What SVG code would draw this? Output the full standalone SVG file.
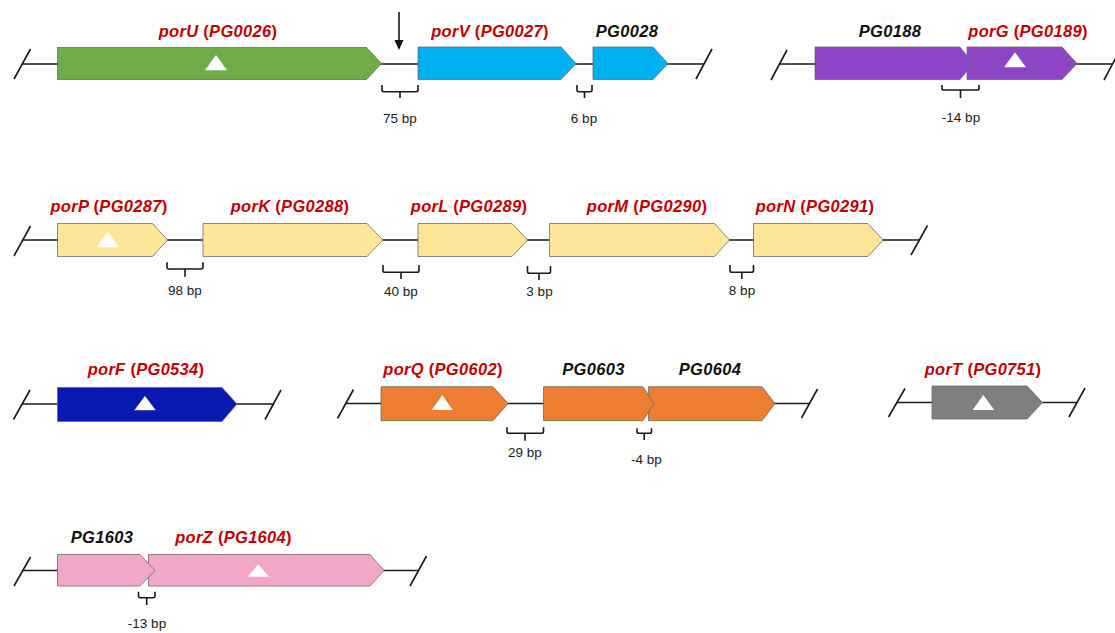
<svg xmlns="http://www.w3.org/2000/svg" width="1115" height="633" viewBox="0 0 1115 633">
<style>
.bb{fill:none;stroke:#1a1a1a;stroke-width:1.6}
.ln{stroke:#1a1a1a;stroke-width:1.6;fill:none}
.g{stroke:#6b6b6b;stroke-width:0.8}
.tri{fill:#ffffff}
.lab{font-family:"Liberation Sans",Arial,sans-serif;font-size:16.5px;letter-spacing:0.3px;font-weight:bold;font-style:italic;text-anchor:middle}
.red{fill:#C00000}
.blk{fill:#111111}
.par{font-style:normal}
.bp{font-family:"Liberation Sans",Arial,sans-serif;font-size:13.5px;fill:#1a1a1a;text-anchor:middle}
</style>
<rect width="1115" height="633" fill="#ffffff"/>
<g id="connectors">
  <path class="ln" d="M22 64H704 M779 64H1113 M22 240H919 M22 404H273 M345 403.5H810 M897 402.5H1077 M22 570.5H418"/>
  <path class="ln" d="M14 79L30.5 49 M696 79L712 49 M771 80L787 50 M1104 80L1120 50 M14 256L30.5 226 M911 255L927.5 225.5 M13.5 419.5L30 390 M265 419.5L281 390 M337.5 418.5L353.5 389.5 M801.5 418L817.5 389 M888.5 417L905 388.5 M1069 417L1085 388 M14 586L30.5 557 M410 586L426.5 556"/>
  <line class="ln" x1="399" y1="12" x2="399" y2="42" stroke-width="2"/>
  <polygon points="394.5,40 403.5,40 399,50" fill="#111111"/>
  <path class="bb" d="M382 85V90Q382 91.7 384 91.7H416Q418 91.7 418 90V85 M400 91.7V98"/>
  <path class="bb" d="M577 85V90Q577 91.7 579 91.7H590Q592 91.7 592 90V85 M584.5 91.7V98"/>
  <path class="bb" d="M942 85V88.5Q942 90 944 90H977Q979 90 979 88.5V85 M960.5 90V98"/>
  <path class="bb" d="M167 262.3V267.3Q167 269 169 269H201Q203 269 203 267.3V262.3 M185 269V276.7"/>
  <path class="bb" d="M383 265V270.5Q383 272.3 385 272.3H417Q419 272.3 419 270.5V265 M401 272.3V279"/>
  <path class="bb" d="M527.5 266V271.5Q527.5 273.3 529.5 273.3H548.5Q550.5 273.3 550.5 271.5V266 M539 273.3V280"/>
  <path class="bb" d="M730 265V270.5Q730 272.3 732 272.3H751.5Q753.5 272.3 753.5 270.5V265 M741.8 272.3V279"/>
  <path class="bb" d="M507 427.3V431.5Q507 433.3 509 433.3H541.5Q543.5 433.3 543.5 431.5V427.3 M525 433.3V440.7"/>
  <path class="bb" d="M637 428.3V431.5Q637 433.3 639 433.3H649.5Q651.5 433.3 651.5 431.5V428.3 M644.2 433.3V440"/>
  <path class="bb" d="M138.5 591.7V596Q138.5 597.7 140.5 597.7H153Q155 597.7 155 596V591.7 M146.7 597.7V605"/>
</g>
<g id="porU">
  <polygon class="g" fill="#70AD47" points="57.5,47.5 366.5,47.5 381.5,63.5 366.5,79.5 57.5,79.5"/>
  <polygon class="tri" points="216,55 205,70.3 227,70.3"/>
  <text class="lab red" x="218" y="37">porU <tspan class="par">(</tspan>PG0026<tspan class="par">)</tspan></text>
</g>
<g id="porV">
  <polygon class="g" fill="#00B0F0" points="418,47 561,47 576,63.5 561,79.5 418,79.5"/>
  <text class="lab red" x="490" y="36.5">porV <tspan class="par">(</tspan>PG0027<tspan class="par">)</tspan></text>
</g>
<g id="PG0028">
  <polygon class="g" fill="#00B0F0" points="593,47 653,47 668,63.5 653,79.5 593,79.5"/>
  <text class="lab blk" x="627" y="36.5">PG0028</text>
</g>
<text class="bp" x="400" y="122.5">75 bp</text>
<text class="bp" x="584" y="122.5">6 bp</text>
<g id="porG">
  <polygon class="g" fill="#8E45C5" points="967,47 1062,47 1077,63.5 1062,79.5 967,79.5"/>
  <polygon class="tri" points="1015,52.3 1004,67.3 1026,67.3"/>
  <text class="lab red" x="1028" y="37">porG <tspan class="par">(</tspan>PG0189<tspan class="par">)</tspan></text>
</g>
<g id="PG0188">
  <polygon class="g" fill="#8E45C5" points="815,47 960,47 973.5,63.5 960,79.5 815,79.5"/>
  <text class="lab blk" x="890" y="37">PG0188</text>
</g>
<text class="bp" x="961" y="122">-14 bp</text>
<g id="porP">
  <polygon class="g" fill="#FFE699" points="57.5,223.5 152.5,223.5 167.5,240 152.5,256.5 57.5,256.5"/>
  <polygon class="tri" points="107.7,231.7 96.7,247.3 119,247.3"/>
  <text class="lab red" x="109" y="212">porP <tspan class="par">(</tspan>PG0287<tspan class="par">)</tspan></text>
</g>
<g id="porK">
  <polygon class="g" fill="#FFE699" points="203,223.5 367,223.5 383,240 367,256.5 203,256.5"/>
  <text class="lab red" x="290" y="212">porK <tspan class="par">(</tspan>PG0288<tspan class="par">)</tspan></text>
</g>
<g id="porL">
  <polygon class="g" fill="#FFE699" points="418,223.5 512,223.5 527.5,240 512,256.5 418,256.5"/>
  <text class="lab red" x="469" y="212">porL <tspan class="par">(</tspan>PG0289<tspan class="par">)</tspan></text>
</g>
<g id="porM">
  <polygon class="g" fill="#FFE699" points="549.5,223.5 714.5,223.5 729.5,240 714.5,256.5 549.5,256.5"/>
  <text class="lab red" x="647" y="212">porM <tspan class="par">(</tspan>PG0290<tspan class="par">)</tspan></text>
</g>
<g id="porN">
  <polygon class="g" fill="#FFE699" points="753.5,223.5 868,223.5 883,240 868,256.5 753.5,256.5"/>
  <text class="lab red" x="815" y="212">porN <tspan class="par">(</tspan>PG0291<tspan class="par">)</tspan></text>
</g>
<text class="bp" x="185" y="295">98 bp</text>
<text class="bp" x="401" y="296">40 bp</text>
<text class="bp" x="539.5" y="296">3 bp</text>
<text class="bp" x="742" y="295">8 bp</text>
<g id="porF">
  <polygon class="g" fill="#0A19B2" points="57.5,387.5 222,387.5 237,404 222,421.5 57.5,421.5"/>
  <polygon class="tri" points="145,396 134.3,410.3 155.7,410.3"/>
  <text class="lab red" x="146" y="375">porF <tspan class="par">(</tspan>PG0534<tspan class="par">)</tspan></text>
</g>
<g id="porQ">
  <polygon class="g" fill="#ED7D31" points="381,386.7 493,386.7 508,403.5 493,420.7 381,420.7"/>
  <polygon class="tri" points="442.3,395 431.7,410 452.7,410"/>
  <text class="lab red" x="443" y="375">porQ <tspan class="par">(</tspan>PG0602<tspan class="par">)</tspan></text>
</g>
<g id="PG0604">
  <polygon class="g" fill="#ED7D31" points="648.5,386.7 762,386.7 775,403.5 762,420.7 648.5,420.7"/>
  <text class="lab blk" x="710" y="375">PG0604</text>
</g>
<g id="PG0603">
  <polygon class="g" fill="#ED7D31" points="543.5,386.7 643,386.7 654,403.5 643,420.7 543.5,420.7"/>
  <text class="lab blk" x="593.5" y="375">PG0603</text>
</g>
<text class="bp" x="525" y="457">29 bp</text>
<text class="bp" x="646.5" y="464">-4 bp</text>
<g id="porT">
  <polygon class="g" fill="#7F7F7F" points="932,386 1027,386 1042.5,402.5 1027,419 932,419"/>
  <polygon class="tri" points="983.3,395 972.7,410 994.3,410"/>
  <text class="lab red" x="983" y="375">porT <tspan class="par">(</tspan>PG0751<tspan class="par">)</tspan></text>
</g>
<g id="porZ">
  <polygon class="g" fill="#F2A7C9" points="148.5,554.5 370,554.5 384,570.5 370,586 148.5,586"/>
  <polygon class="tri" points="258.3,564.3 247.7,576.7 269,576.7"/>
  <text class="lab red" x="233.5" y="543">porZ <tspan class="par">(</tspan>PG1604<tspan class="par">)</tspan></text>
</g>
<g id="PG1603">
  <polygon class="g" fill="#F2A7C9" points="57.5,554.5 140,554.5 155,570.5 140,586 57.5,586"/>
  <text class="lab blk" x="102" y="543">PG1603</text>
</g>
<text class="bp" x="147" y="627.5">-13 bp</text>
</svg>
